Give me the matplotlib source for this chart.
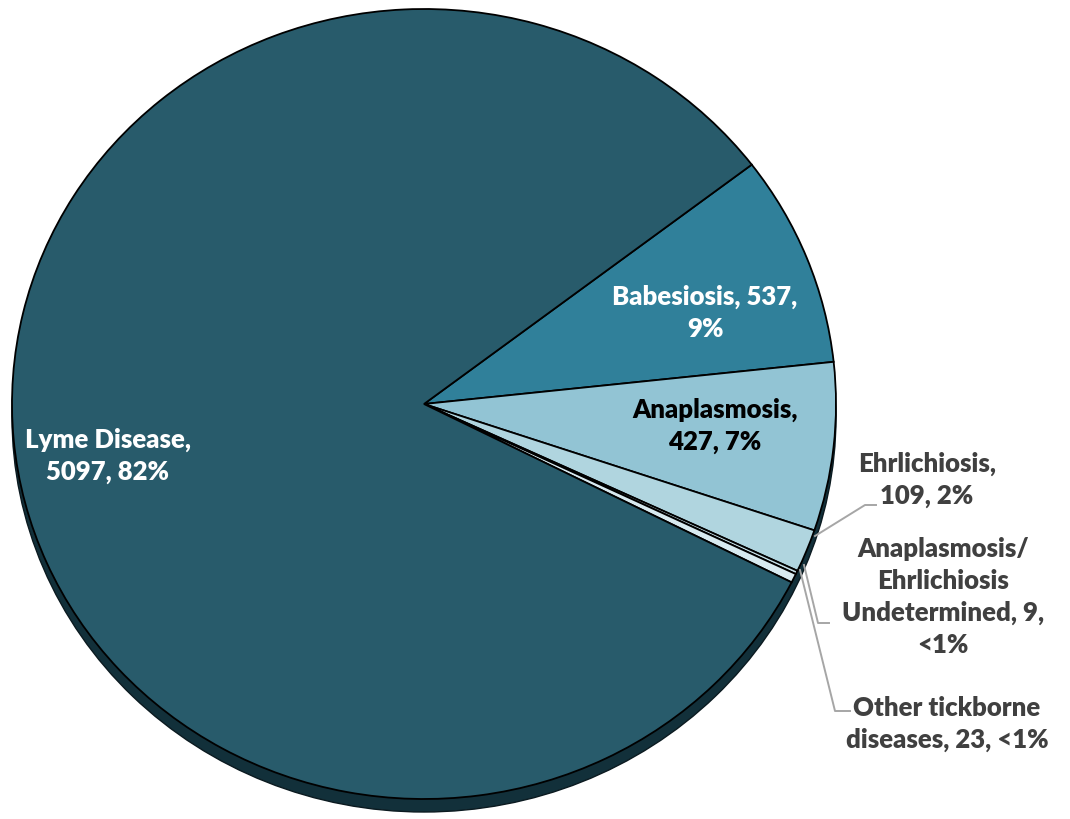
import matplotlib.pyplot as plt
from matplotlib.patches import Ellipse

# Tickborne disease case counts
diseases = ["Babesiosis", "Anaplasmosis", "Ehrlichiosis",
            "Anaplasmosis/Ehrlichiosis Undetermined",
            "Other tickborne diseases", "Lyme Disease"]
cases = [537, 427, 109, 9, 23, 5097]
colors = ["#30809a", "#92c4d4", "#b0d5df", "#c6dfe7", "#d8eaf0", "#285b6b"]

label_texts = ["Babesiosis, 537,\n9%",
               "Anaplasmosis,\n427, 7%",
               "Ehrlichiosis,\n109, 2%",
               "Anaplasmosis/\nEhrlichiosis\nUndetermined, 9,\n<1%",
               "Other tickborne\ndiseases, 23, <1%",
               "Lyme Disease,\n5097, 82%"]

# pie geometry in pixels (slightly squashed ellipse)
CX, CY, RX, RY = 424, 405, 412, 395
W, H = 1070, 820


def px(x, y):
    return (x - CX) / RX, (CY - y) / RY


fig = plt.figure(figsize=(10.7, 8.2), dpi=100)
ax = fig.add_axes([0, 0, 1, 1])

# dark rim under the pie for the 3D look
ax.add_patch(Ellipse((0, -13 / RY), 2, 2, facecolor="#12303a",
                     edgecolor="#0b1a20", lw=1, zorder=0))

wedges, _ = ax.pie(cases, colors=colors, startangle=37.3, counterclock=False,
                   radius=1, center=(0, 0), frame=True,
                   wedgeprops=dict(edgecolor="black", linewidth=1.3))
for w in wedges:
    w.set_zorder(2)
ax.set_xlim(-CX / RX, (W - CX) / RX)
ax.set_ylim(-(H - CY) / RY, CY / RY)
ax.set_aspect("auto")
ax.axis("off")

font = dict(family=["Lato", "DejaVu Sans"], fontweight="heavy", fontsize=18.5,
            ha="center", va="center", linespacing=1.38, zorder=5)

# labels inside the pie
ax.text(*px(705, 313), label_texts[0], color="white", **font)
ax.text(*px(715, 426), label_texts[1], color="black", **font)
ax.text(*px(108, 456), label_texts[5], color="white", **font)

# labels outside with leader lines
grey = "#404040"
lead = "#a6a6a6"
ax.text(*px(927, 480), label_texts[2], color=grey, **font)
ax.text(*px(943, 597), label_texts[3], color=grey, **font)
ax.text(*px(947, 724), label_texts[4], color=grey, **font)

leaders = [[(815, 537), (865, 506), (876, 506)],
           [(804, 566), (818, 624), (829, 624)],
           [(800, 571), (835, 712), (850, 712)]]
for pts in leaders:
    xs, ys = zip(*[px(x, y) for x, y in pts])
    ax.plot(xs, ys, color=lead, lw=1.4, zorder=4)

fig.savefig("out.png", dpi=100, facecolor="white")
